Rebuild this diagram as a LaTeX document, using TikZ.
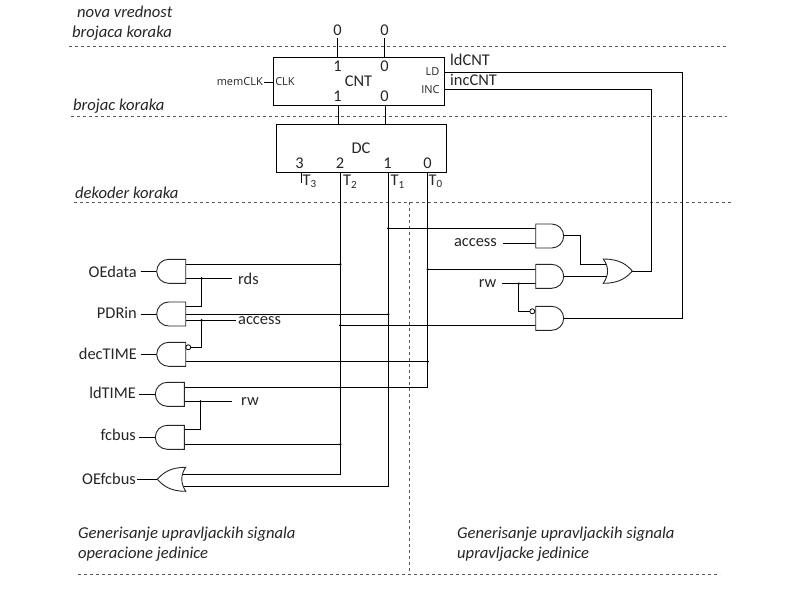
\documentclass[tikz,border=0pt]{standalone}
\usepackage{fontspec}
\setmainfont{Carlito}
\newfontfamily\smallsans{Open Sans}
\newcommand{\tsub}[1]{T\raisebox{-2.5pt}{\fontsize{11}{11}\selectfont #1}}
\newcommand{\gateAndR}[3]{\draw[gate] (#1,#2) -- ++(16,0) arc[start angle=-90,end angle=90,radius=12] -- (#1,#3) -- cycle;}
\newcommand{\gateAndL}[3]{\draw[gate] (#1,#2) -- ++(-17,0) arc[start angle=270,end angle=90,radius=12] -- (#1,#3) -- cycle;}
\tikzset{
  wire/.style={draw=black,line width=1pt},
  gate/.style={draw=black!85,line width=0.9pt,fill=white},
  bubble/.style={circle,draw=black,line width=0.8pt,fill=white,inner sep=0pt,minimum size=5pt},
  jdot/.style={circle,fill=black,inner sep=0pt,minimum size=2.6pt},
  sep/.style={draw=black!65,line width=0.7pt,dash pattern=on 3pt off 3pt},
  block/.style={draw=black,line width=1pt,inner sep=0pt,anchor=north west},
  lab/.style={inner sep=0pt,font=\fontsize{16.4}{17}\selectfont,text=black!85},
  mini/.style={inner sep=0pt,font=\smallsans\fontsize{11}{11}\selectfont,text=black!85},
  note/.style={inner sep=0pt,font=\itshape\fontsize{16.6}{20}\selectfont,text=black!85,align=left,anchor=west},
}
\begin{document}
\begin{tikzpicture}[x=1pt,y=-1pt]
\useasboundingbox (0,0) rectangle (800,600);
\fill[white] (0,0) rectangle (800,600);
% separators
\coordinate (s1a) at (69,46.3); \coordinate (s1b) at (727,46.3);
\coordinate (s2a) at (71,116.3); \coordinate (s2b) at (727,116.3);
\coordinate (s3a) at (74,202); \coordinate (s3b) at (732,202);
\coordinate (s4a) at (78,574); \coordinate (s4b) at (720,574);
\coordinate (s5a) at (409,202);\coordinate (s5b) at (409,574);
\draw[sep] (s1a)--(s1b); \draw[sep] (s2a)--(s2b); \draw[sep] (s3a)--(s3b); \draw[sep] (s4a)--(s4b); \draw[sep] (s5a)--(s5b);
% notes
\node[note] (n1) at (72,23.5) {\hspace*{5pt}nova vrednost\\brojaca koraka};
\node[note] (n2) at (73,106) {brojac koraka};
\node[note] (n3) at (75,193) {dekoder koraka};
\node[note] (n4) at (78,544.5) {Generisanje upravljackih signala\\operacione jedinice};
\node[note] (n5) at (457,544.5) {Generisanje upravljackih signala\\upravljacke jedinice};
% blocks
\node[block,minimum width=171pt,minimum height=48pt] (cnt) at (273.3,57.3) {};
\node[block,minimum width=170pt,minimum height=48pt] (dc) at (276.3,124.3) {};
\node[lab] (cntname) at (358.5,81) {CNT};
\node[lab] (dcname) at (361,148) {DC};
\foreach \n/\t/\x/\y in {ci1/1/337.5/66,ci0/0/384.5/66,co1/1/337.5/96,co0/0/384.5/96,d3/3/299.5/163,d2/2/340/163,d1/1/387.5/163,d0/0/427.5/163,z1/0/337.5/30,z0/0/384.5/30}
  \node[lab] (\n) at (\x,\y) {\t};
\node[mini] (clk) at (285,81.5) {CLK};
\node[mini] (ld) at (432.5,72) {LD};
\node[mini] (inc) at (430.5,89.5) {INC};
\node[mini,anchor=east] (mem) at (263,82) {memCLK};
\node[lab,anchor=west] (ldcnt) at (450,60) {ldCNT};
\node[lab,anchor=west] (inccnt) at (450,79.5) {incCNT};
\draw[wire] (mem.east) ++(1,0) -- (cnt.west |- mem.east);
\draw[wire] (ci1 |- 0,38) -- (ci1 |- cnt.north);
\draw[wire] (ci0 |- 0,38) -- (ci0 |- cnt.north);
\coordinate (b1) at (338.3,105.3); \coordinate (b0) at (385.3,105.3);
\draw[wire] (b1) -- (b1 |- dc.north);
\draw[wire] (b0) -- (b0 |- dc.north);
% T lines
\coordinate (T3) at (301.3,172.3); \coordinate (T3e) at (301.3,183);
\coordinate (T2) at (340.3,172.3); \coordinate (T1) at (388.3,172.3); \coordinate (T0) at (427.7,172.3);
\draw[wire] (T3) -- (T3e);
\node[lab,anchor=west] (lt3) at (302.5,181.5) {\tsub{3}};
\node[lab,anchor=west] (lt2) at (343,181.5) {\tsub{2}};
\node[lab,anchor=west] (lt1) at (390.5,181.5) {\tsub{1}};
\node[lab,anchor=west] (lt0) at (428.5,181.5) {\tsub{0}};
% right gates pins
\coordinate (a1i1) at (535.7,228.3); \coordinate (a1i2) at (535.7,243); \coordinate (a1o) at (564,235.7);
\coordinate (a2i1) at (535.7,269.3); \coordinate (a2i2) at (535.7,283.7); \coordinate (a2o) at (564,276.3);
\coordinate (a3i1) at (530,311.3); \coordinate (a3i2) at (535.7,325.3); \coordinate (a3o) at (564,318);
\coordinate (oi1) at (607,264.3); \coordinate (oi2) at (607,276.3); \coordinate (oo) at (632.3,271);
\coordinate (m1) at (580.3,235.7);
\coordinate (ldr) at (682.3,72); \coordinate (incr) at (651.3,89.3);
\coordinate (jrw) at (518.7,283.7);
\node[lab,anchor=east] (acc2) at (497,243) {access};
\node[lab,anchor=east] (rw2) at (496.5,284) {rw};
\coordinate (acc2e) at (503,243); \coordinate (rw2e) at (502,283.7);
% wires right
\draw[wire] (T1 |- a1i1) -- (a1i1);
\draw[wire] (acc2e) -- (a1i2);
\draw[wire] (T0 |- a2i1) -- (a2i1);
\draw[wire] (rw2e) -- (a2i2);
\draw[wire] (jrw) |- (a3i1);
\draw[wire] (T2 |- a3i2) -- (a3i2);
\draw[wire] (a1o) -| (m1) |- (oi1);
\draw[wire] (a2o) -- (oi2);
\draw[wire] (oo) -| (incr) -- (incr -| cnt.east);
\draw[wire] (a3o) -| (ldr) -- (ldr -| cnt.east);
% left gate pins
\coordinate (g1o1) at (185.7,264.3); \coordinate (g1o2) at (185.7,278.3);
\coordinate (g2o1) at (185.7,306); \coordinate (g2o2) at (185.7,314.3); \coordinate (g2o3) at (185.7,320.3);
\coordinate (g3o1) at (190.5,347.3); \coordinate (g3o2) at (185.7,361.7);
\coordinate (g4o1) at (184.3,387); \coordinate (g4o2) at (184.3,401.3);
\coordinate (g5o1) at (184.3,429.3); \coordinate (g5o2) at (184.3,444.3);
\coordinate (g6o1) at (182.5,474.3); \coordinate (g6o2) at (182.5,486.3);
\coordinate (j1) at (201.7,278.3); \coordinate (j2) at (201.7,320.3); \coordinate (j3) at (200.5,401.3);
\coordinate (rdse) at (231.7,278.3); \coordinate (acce) at (235.7,320.3); \coordinate (rwe) at (231.7,401.3);
\node[lab,anchor=west] (rds) at (238,278.5) {rds};
\node[lab,anchor=west] (acc1) at (238,321) {access};
\node[lab,anchor=west] (rw1) at (241,401.5) {rw};
% left labels
\node[lab,anchor=east] (l1) at (137,271.5) {OEdata};
\node[lab,anchor=east] (l2) at (137,312.5) {PDRin};
\node[lab,anchor=east] (l3) at (137,353.5) {decTIME};
\node[lab,anchor=east] (l4) at (136,393) {ldTIME};
\node[lab,anchor=east] (l5) at (136,435) {fcbus};
\node[lab,anchor=east] (l6) at (136,479) {OEfcbus};
\coordinate (p1) at (157,271.7); \coordinate (p2) at (157,314.7); \coordinate (p3) at (157,354.7);
\coordinate (p4) at (156,394.3); \coordinate (p5) at (156,437); \coordinate (p6) at (157.3,479.3);
\coordinate (q1) at (140.7,271.7); \coordinate (q2) at (140.7,314.7); \coordinate (q3) at (140.7,354.7);
\coordinate (q4) at (139,394.3); \coordinate (q5) at (139.3,437); \coordinate (q6) at (136.7,479.3);
\foreach \i in {1,...,6} \draw[wire] (q\i) -- (p\i);
% wires left
\draw[wire] (g1o1) -- (T2 |- g1o1);
\draw[wire] (g1o2) -- (rdse);
\draw[wire] (g2o1) -| (j1);
\draw[wire] (g2o2) -- (T1 |- g2o2);
\draw[wire] (g2o3) -- (acce);
\draw[wire] (g3o1) -| (j2);
\draw[wire] (g3o2) -- (T0 |- g3o2);
\draw[wire] (g4o1) -- (T0 |- g4o1);
\draw[wire] (g4o2) -- (rwe);
\draw[wire] (g5o1) -| (j3);
\draw[wire] (g5o2) -- (T2 |- g5o2);
\draw[wire] (g6o1) -| (T2);
\draw[wire] (g6o2) -| (T1);
\draw[wire] (T0) -- (T0 |- g4o1);
% gates
\gateAndR{535.7}{224}{248}
\gateAndR{535.7}{264.3}{288.3}
\gateAndR{535.7}{306.3}{330.3}
\draw[gate] (603.3,259) .. controls (620,259) and (627,265) .. (632.3,271) .. controls (627,277) and (620,283.3) .. (603.3,283.3) .. controls (609,275) and (609,267) .. (603.3,259) -- cycle;
\gateAndL{185.7}{259.3}{283.3}
\gateAndL{185.7}{302}{326}
\gateAndL{185.7}{342.3}{366.3}
\gateAndL{184.3}{382.3}{406.3}
\gateAndL{184.3}{425.3}{449.3}
\draw[gate] (185.7,467.3) .. controls (170,467.3) and (163,473) .. (157.3,479.3) .. controls (163,485.5) and (170,491.3) .. (185.7,491.3) .. controls (180.5,483) and (180.5,475) .. (185.7,467.3) -- cycle;
\node[bubble] (b3) at (188.3,347.3) {};
\node[bubble] (b7) at (532.3,311.3) {};
% junctions
\foreach \n/\p in {d01/{T1 |- a1i1},d02/{T0 |- a2i1},d03/jrw,d04/{T2 |- a3i2},d05/{T2 |- g1o1},d06/j1,d07/j2,d08/{T1 |- g2o2},d09/{T0 |- g3o2},d10/j3,d11/{T2 |- g5o2}}
  \node[jdot] (\n) at (\p) {};
\end{tikzpicture}
\end{document}
